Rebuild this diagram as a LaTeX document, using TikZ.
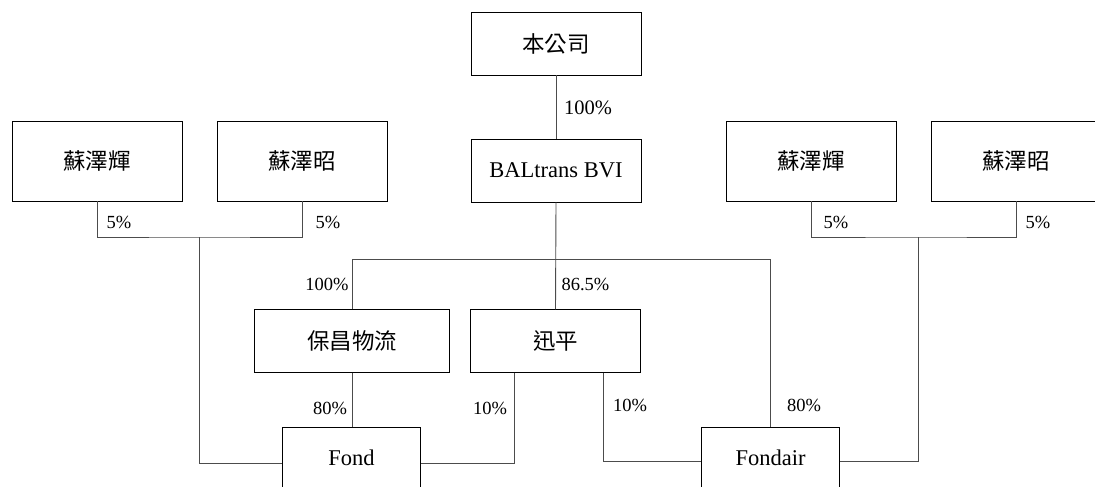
\documentclass[tikz,border=0pt]{standalone}
\usepackage{fontspec}
\setmainfont{Liberation Serif}
\newfontfamily\cjk{Noto Sans CJK TC}
\begin{document}
\begin{tikzpicture}[x=1pt,y=-1pt,
  box/.style={draw=black, line width=0.9pt, inner sep=0pt, font=\fontsize{22.5}{26}\selectfont},
  conn/.style={draw=black!70, line width=0.9pt},
  pct/.style={inner sep=0pt, font=\fontsize{18.5}{21}\selectfont}]
\useasboundingbox (0,0) rectangle (1095,487);
% boxes
\node[box, minimum width=170pt, minimum height=63pt] (top) at (556,43.5) {\cjk 本公司};
\node[box, minimum width=170pt, minimum height=63pt] (balt) at (556,170.5) {BALtrans BVI};
\node[box, minimum width=170pt, minimum height=80pt] (L1) at (97,161) {\cjk 蘇澤輝};
\node[box, minimum width=170pt, minimum height=80pt] (L2) at (302,161) {\cjk 蘇澤昭};
\node[box, minimum width=170pt, minimum height=80pt] (R1) at (811,161) {\cjk 蘇澤輝};
\node[box, minimum width=170pt, minimum height=80pt] (R2) at (1016,161) {\cjk 蘇澤昭};
\node[box, minimum width=194.5pt, minimum height=62.5pt] (bao) at (352,341) {\cjk 保昌物流};
\node[box, minimum width=170.5pt, minimum height=62.5pt] (xun) at (555.5,341) {\cjk 迅平};
\node[box, minimum width=138.5pt, minimum height=62pt] (fond) at (351.5,458) {Fond};
\node[box, minimum width=138.5pt, minimum height=62pt] (fondair) at (770.5,458) {Fondair};
% helper coordinates
\coordinate (jL) at (199,237);
\coordinate (jR) at (918,237);
\coordinate (bus) at (556,259);
\coordinate (fy) at (0,463);
\coordinate (fy2) at (0,461);
\coordinate (x1) at (514,0);
\coordinate (x2) at (603,0);
% connectors
\draw[conn] (top.south) -- (balt.north);
\draw[conn] (L1.south) |- (jL) -| (L2.south);
\draw[conn] (jL) |- (fond.west |- fy);
\draw[conn] (R1.south) |- (jR) -| (R2.south);
\draw[conn] (jR) |- (fondair.east |- fy2);
\draw[conn] (balt.south) -- (xun.north);
\draw[conn] (bao.north) |- (fondair.north |- bus) -- (fondair.north);
\draw[conn] (bao.south) -- (bao.south |- fond.north);
\draw[conn] (xun.south -| x1) |- (fond.east |- fy);
\draw[conn] (xun.south -| x2) |- (fondair.west |- fy2);
% labels
\node[pct, font=\fontsize{20.5}{23}\selectfont] (p1) at (588,108) {100\%};
\node[pct] (p2) at (119,222) {5\%};
\node[pct] (p3) at (328,222) {5\%};
\node[pct] (p4) at (836,222) {5\%};
\node[pct] (p5) at (1038,222) {5\%};
\node[pct] (p6) at (327,284) {100\%};
\node[pct] (p7) at (585.5,284) {86.5\%};
\node[pct] (p8) at (330,408) {80\%};
\node[pct] (p9) at (490,408) {10\%};
\node[pct] (p10) at (630,405.5) {10\%};
\node[pct] (p11) at (804,405.5) {80\%};
\end{tikzpicture}
\end{document}
